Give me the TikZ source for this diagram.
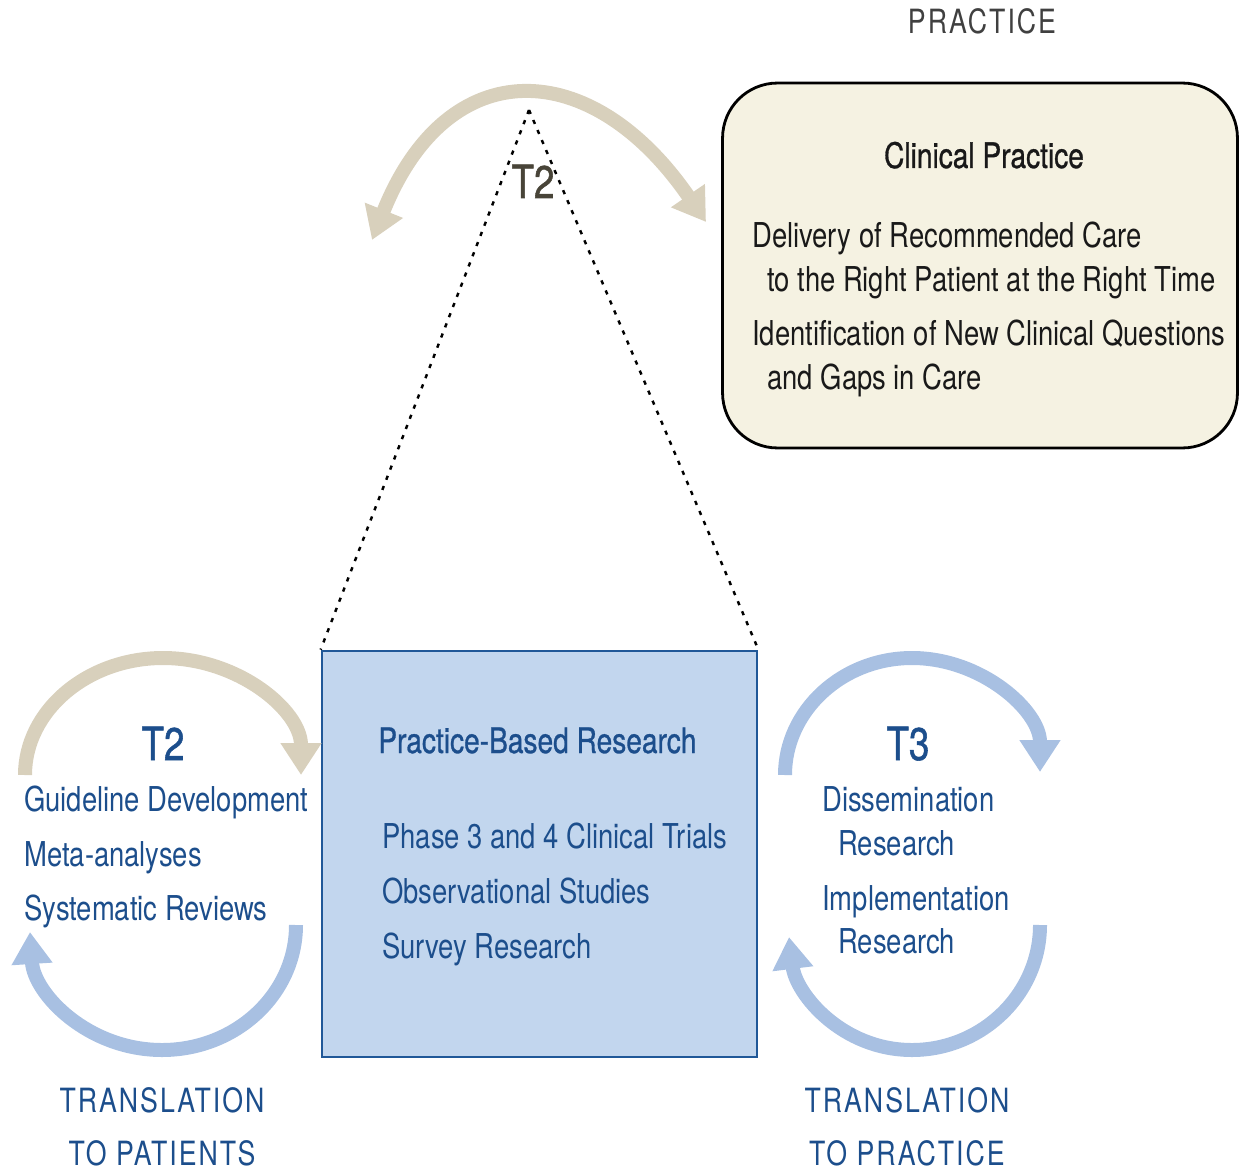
\documentclass[tikz,border=0pt]{standalone}
\usepackage{fontspec}
\setmainfont{TeX Gyre Heros}[FakeStretch=0.8]
\usetikzlibrary{arrows.meta,positioning}
\definecolor{beigeband}{RGB}{216,208,188}
\definecolor{blueband}{RGB}{168,192,226}
\definecolor{boxfill}{RGB}{194,214,238}
\definecolor{boxline}{RGB}{32,88,152}
\definecolor{darkblue}{RGB}{28,78,140}
\definecolor{cream}{RGB}{245,242,226}
\definecolor{olive}{RGB}{72,68,56}
\newcommand{\bodyfont}{\fontsize{19.5}{22}\selectfont}
\newcommand{\headfont}{\fontsize{20}{23}\selectfont\addfontfeature{FakeBold=0.8}}
\newcommand{\tfont}{\fontsize{26}{29}\selectfont\addfontfeature{FakeBold=1.2}}
\newcommand{\capsfont}{\fontsize{19}{22}\selectfont\addfontfeature{LetterSpace=6}}
\tikzset{txt/.style={inner sep=0pt, anchor=base west, font=\bodyfont}}
\tikzset{band/.style={line width=0.28cm, line cap=butt}}
\tikzstyle{bigtip}=[-{Triangle[width=0.78cm,length=0.64cm]}]
\tikzstyle{cpbox}=[draw=black, line width=1.6pt, fill=cream, rounded corners=1.1cm, minimum width=10.3cm, minimum height=7.3cm, inner sep=0pt]
\tikzstyle{pbbox}=[draw=boxline, line width=1.6pt, fill=boxfill, minimum width=8.7cm, minimum height=8.12cm, inner sep=0pt]

\begin{document}
\begin{tikzpicture}[x=0.02cm, y=-0.02cm]
\useasboundingbox (0,0) rectangle (1239,1172);

% practice
\node[txt, anchor=base, font=\capsfont, text=black!75] (prac) at (982,34) {PRACTICE};
\node[cpbox] (cp) at (980,265.5) {};
\node[txt, anchor=base, font=\headfont, text=black!90] (cptitle) at (984,168) {Clinical Practice};
\node[txt, text=black!90] (cp1) at (752,248) {Delivery of Recommended Care};
\node[txt, text=black!90] (cp2) at (767,292) {to the Right Patient at the Right Time};
\node[txt, text=black!90] (cp3) at (752,345) {Identification of New Clinical Questions};
\node[txt, text=black!90] (cp4) at (767,389) {and Gaps in Care};

% top T2 arrow
\coordinate (tl) at (372,240);
\coordinate (tr) at (706,222);
\draw[band, draw=beigeband, {Triangle[width=0.78cm,length=0.64cm]}-{Triangle[width=0.78cm,length=0.64cm]}]
  (tl) .. controls (448,50) and (592,56) .. (tr);

% practice-based research
\node[pbbox] (pb) at (539.5,854) {};
\coordinate (apex) at (529,110);
\draw[line width=1.4pt, dash pattern=on 2.4pt off 3.8pt] (apex) -- (pb.north west);
\draw[line width=1.4pt, dash pattern=on 2.4pt off 3.8pt] (apex) -- (pb.north east);
\node[txt, anchor=base, font=\tfont, text=olive] (t2top) at (533,198) {T2};
\node[txt, font=\headfont, text=darkblue] (pbtitle) at (378,753) {Practice-Based Research};
\node[txt, text=darkblue] (pb1) at (382,848) {Phase 3 and 4 Clinical Trials};
\node[txt, text=darkblue] (pb2) at (382,903) {Observational Studies};
\node[txt, text=darkblue] (pb3) at (382,958) {Survey Research};

% T2 cycle (patients)
\coordinate (la) at (25,775);
\coordinate (lb) at (301,775);
\coordinate (lc) at (296,925);
\coordinate (ld) at (30,932);
\draw[band, draw=beigeband, bigtip] (la) .. controls (25,711) and (87,658) .. (163,658)
  .. controls (239,658) and (301,711) .. (lb);
\draw[band, draw=blueband, bigtip] (lc) .. controls (296,994) and (236,1050) .. (162,1050)
  .. controls (88,1050) and (34,994) .. (ld);
\node[txt, anchor=base, font=\tfont, text=darkblue] (t2left) at (163,760) {T2};
\node[txt, text=darkblue] (gd) at (24,811) {Guideline Development};
\node[txt, text=darkblue] (ma) at (24,866) {Meta-analyses};
\node[txt, text=darkblue] (sr) at (24,920) {Systematic Reviews};
\node[txt, anchor=base, font=\capsfont, text=darkblue] (tp1) at (162,1112) {TRANSLATION};
\node[txt, anchor=base, font=\capsfont, text=darkblue] (tp2) at (162,1165) {TO PATIENTS};

% T3 cycle (practice)
\coordinate (ra) at (785,775);
\coordinate (rb) at (1040,772);
\coordinate (rc) at (1040,925);
\coordinate (rd) at (789,937);
\draw[band, draw=blueband, bigtip] (ra) .. controls (785,711) and (842,658) .. (912,658)
  .. controls (982,658) and (1040,711) .. (rb);
\draw[band, draw=blueband, bigtip] (rc) .. controls (1040,994) and (982,1050) .. (912,1050)
  .. controls (842,1050) and (796,994) .. (rd);
\node[txt, anchor=base, font=\tfont, text=darkblue] (t3) at (908,760) {T3};
\node[txt, text=darkblue] (dr1) at (822,811) {Dissemination};
\node[txt, text=darkblue] (dr2) at (838,855) {Research};
\node[txt, text=darkblue] (ir1) at (822,910) {Implementation};
\node[txt, text=darkblue] (ir2) at (838,953) {Research};
\node[txt, anchor=base, font=\capsfont, text=darkblue] (tq1) at (907,1112) {TRANSLATION};
\node[txt, anchor=base, font=\capsfont, text=darkblue] (tq2) at (907,1165) {TO PRACTICE};
\end{tikzpicture}
\end{document}
